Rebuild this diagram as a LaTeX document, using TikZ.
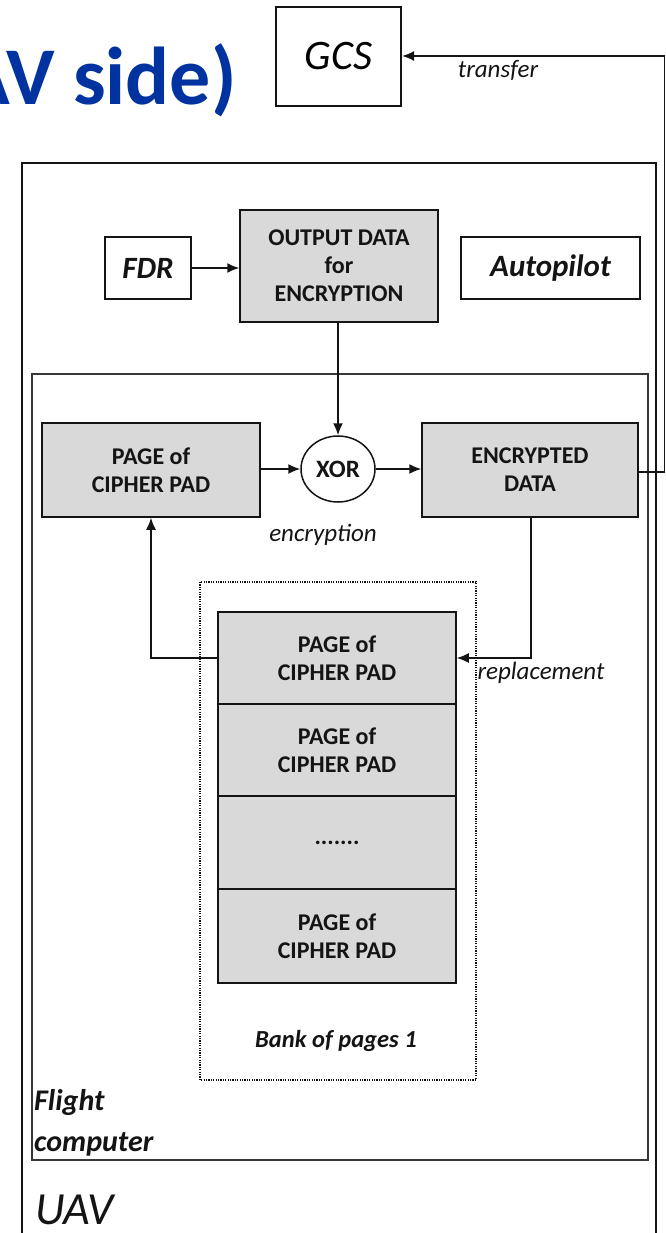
\documentclass[tikz,border=0pt]{standalone}
\usepackage{fontspec}
\setmainfont{Carlito}
\usetikzlibrary{arrows.meta,shapes.geometric}
\definecolor{boxgray}{RGB}{217,217,217}
\definecolor{titleblue}{RGB}{0,51,160}
\definecolor{ink}{RGB}{20,20,20}
\tikzset{
  graybox/.style={draw=ink,fill=boxgray,line width=1.5pt,inner sep=0pt,align=center,
     font=\fontsize{24}{28}\selectfont\bfseries,text=ink},
  whitebox/.style={draw=ink,fill=white,line width=1.5pt,inner sep=0pt,align=center,
     font=\fontsize{31}{36}\selectfont\bfseries\itshape,text=ink},
  lbl/.style={inner sep=0pt,font=\fontsize{25}{30}\selectfont\itshape,text=ink},
  arr/.style={draw=ink,line width=1.5pt,-{Latex[length=12pt,width=10pt]}},
}
\begin{document}
\begin{tikzpicture}[x=1pt,y=-1pt]
\useasboundingbox (0,0) rectangle (665,1233);
\begin{scope}
\clip (0,0) rectangle (665,1233);
% title
\node[anchor=base east,inner sep=0pt,text=titleblue,font=\fontsize{82}{90}\selectfont\bfseries] (title) at (237,105) {(UAV side)};
% GCS
\node[draw=ink,line width=2.2pt,minimum width=125pt,minimum height=99pt,inner sep=0pt,
  font=\fontsize{42}{48}\selectfont\itshape] (gcs) at (338.5,56.5) {GCS};
% UAV outer box
\draw[draw=ink,line width=2.2pt] (22,1260) -- (22,163) -- (656,163) -- (656,1260);
% Flight computer box
\draw[draw=ink!85,line width=1.5pt] (32,374) rectangle (648,1160);
% dotted bank box
\draw[draw=ink,line width=1.2pt,dash pattern=on 1.2pt off 1.2pt] (200,582) rectangle (476,1080);
% top row
\node[whitebox,minimum width=86pt,minimum height=62pt] (fdr) at (148,268) {FDR};
\node[graybox,minimum width=198pt,minimum height=112pt] (out) at (339,266) {OUTPUT DATA\\for\\ENCRYPTION};
\node[whitebox,minimum width=179pt,minimum height=62pt] (auto) at (550.5,268) {Autopilot};
% middle row
\node[graybox,minimum width=218pt,minimum height=94pt] (padL) at (151,470) {PAGE of\\CIPHER PAD};
\node[draw=ink,fill=white,line width=1.5pt,ellipse,minimum width=74pt,minimum height=66pt,inner sep=0pt,
  font=\fontsize{25}{30}\selectfont\bfseries,text=ink] (xor) at (338,469) {XOR};
\node[graybox,minimum width=216pt,minimum height=94pt] (enc) at (530,470) {ENCRYPTED\\DATA};
% stack
\node[graybox,minimum width=238pt,minimum height=92pt] (p1) at (337,658) {PAGE of\\CIPHER PAD};
\node[graybox,minimum width=238pt,minimum height=92pt] (p2) at (337,750) {PAGE of\\CIPHER PAD};
\node[graybox,minimum width=238pt,minimum height=93pt] (p3) at (337,842.5) {.......};
\node[graybox,minimum width=238pt,minimum height=94pt] (p4) at (337,936) {PAGE of\\CIPHER PAD};
% labels
\node[lbl] (lenc) at (323,535) {encryption};
\node[lbl] (lrep) at (541,673) {replacement};
\node[lbl] (ltr) at (498,70) {transfer};
\node[inner sep=0pt,anchor=center,font=\fontsize{24.5}{29}\selectfont\bfseries\itshape,text=ink] (bank) at (336,1041) {Bank of pages 1};
\node[anchor=west,inner sep=0pt,font=\fontsize{30}{36}\selectfont\bfseries\itshape,text=ink] (fl1) at (34,1102) {Flight};
\node[anchor=west,inner sep=0pt,font=\fontsize{30}{36}\selectfont\bfseries\itshape,text=ink] (fl2) at (34,1144) {computer};
\node[anchor=west,inner sep=0pt,font=\fontsize{46}{52}\selectfont\itshape,text=ink] (uav) at (35,1210) {UAV};
% connectors
\coordinate (c1) at (664.5,472);
\coordinate (c2) at (664.5,56);
\draw[arr] (fdr.east) -- (out.west |- fdr.east);
\draw[arr] (out.south -| xor.north) -- (xor.north);
\draw[arr] (padL.east |- xor.west) -- (xor.west);
\draw[arr] (xor.east) -- (enc.west |- xor.east);
\draw[arr] (p1.west) -| (padL.south);
\draw[arr] ([xshift=1pt]enc.south) |- (p1.east);
\draw[arr] (enc.east |- c1) -- (c1) -- (c2) -- (gcs.east |- c2);
\end{scope}
\end{tikzpicture}
\end{document}
